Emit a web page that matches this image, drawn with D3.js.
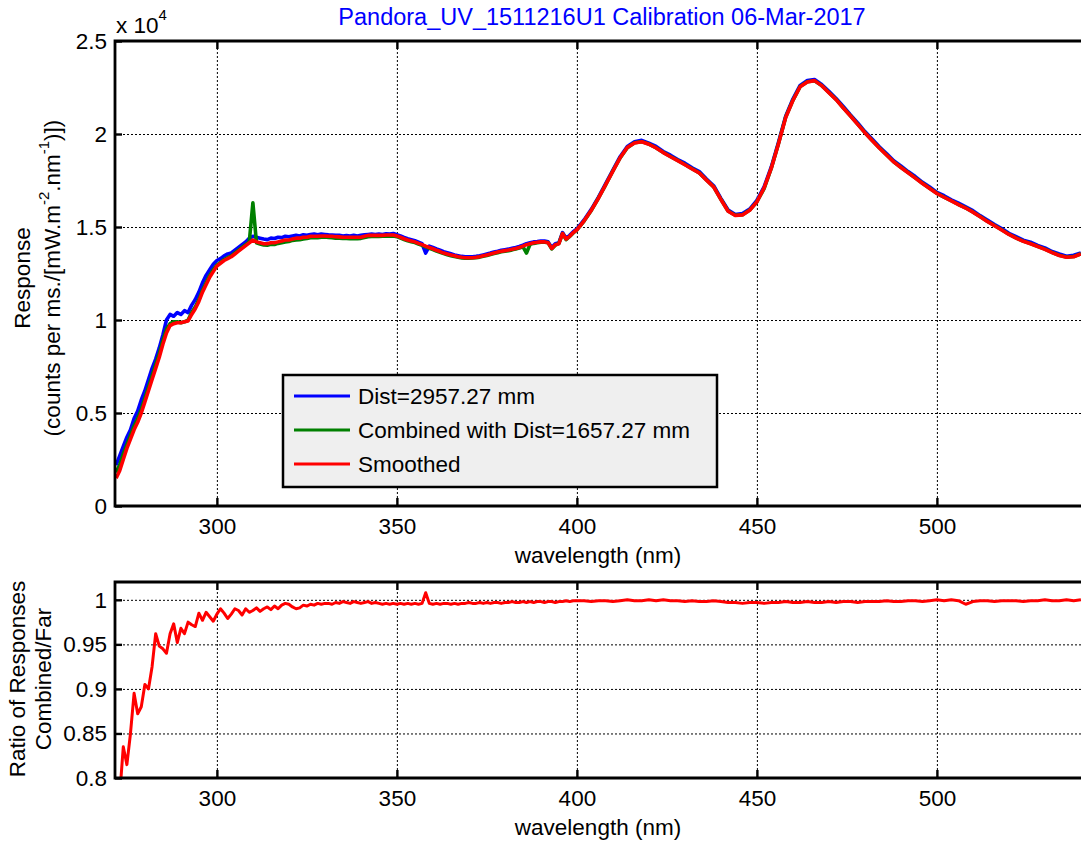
<!DOCTYPE html>
<html>
<head>
<meta charset="utf-8">
<script src="https://cdn.jsdelivr.net/npm/d3@7"></script>
<style>
  body { margin: 0; background: #fff; }
  svg { display: block; font-family: "Liberation Sans", Arial, Helvetica, sans-serif; }
</style>
</head>
<body>
<svg id="chart" width="1081" height="843"></svg>
<script>
// Sampling grid (nm): 1 nm up to 400 nm, 2 nm beyond
const wavelengths = d3.range(272, 401, 1).concat(d3.range(402, 541, 2));

// Response in units of 1e4 counts per ms / [mW.m^-2.nm^-1]
const farResponse = [
  0.22,0.27,0.32,0.37,0.41,0.47,0.51,0.57,0.62,0.68,
  0.74,0.79,0.85,0.92,1.00,1.03,1.02,1.04,1.03,1.05,
  1.04,1.08,1.11,1.15,1.20,1.24,1.27,1.30,1.32,1.33,
  1.345,1.355,1.36,1.375,1.39,1.405,1.42,1.44,1.45,1.445,
  1.44,1.435,1.432,1.44,1.438,1.445,1.443,1.45,1.448,1.452,
  1.455,1.452,1.458,1.456,1.46,1.462,1.458,1.462,1.46,1.458,
  1.457,1.455,1.456,1.452,1.454,1.452,1.455,1.452,1.455,1.458,
  1.46,1.462,1.46,1.462,1.46,1.464,1.462,1.465,1.458,1.452,
  1.444,1.437,1.432,1.426,1.418,1.41,1.36,1.397,1.39,1.382,
  1.375,1.367,1.362,1.356,1.35,1.346,1.342,1.34,1.34,1.34,
  1.342,1.345,1.35,1.355,1.36,1.366,1.37,1.375,1.378,1.381,
  1.386,1.39,1.395,1.402,1.41,1.415,1.42,1.422,1.425,1.424,
  1.42,1.39,1.41,1.415,1.47,1.44,1.455,1.475,1.49,
  1.538,1.595,1.661,1.733,1.806,1.878,1.933,1.958,1.966,1.951,
  1.933,1.906,1.886,1.863,1.843,1.818,1.798,1.758,1.722,1.654,
  1.592,1.567,1.572,1.596,1.643,1.716,1.823,1.955,2.096,2.188,
  2.261,2.287,2.293,2.266,2.23,2.191,2.148,2.103,2.06,2.013,
  1.973,1.931,1.895,1.856,1.828,1.798,1.771,1.74,1.715,1.686,
  1.668,1.646,1.628,1.608,1.588,1.561,1.538,1.513,1.492,1.466,
  1.448,1.429,1.418,1.401,1.388,1.368,1.355,1.343,1.348,1.361
];

const combinedResponse = [
  0.18,0.22,0.28,0.33,0.38,0.43,0.47,0.52,0.58,0.64,
  0.70,0.76,0.82,0.89,0.95,0.98,0.99,0.99,0.985,0.99,
  1.00,1.04,1.07,1.11,1.16,1.20,1.24,1.27,1.295,1.31,
  1.325,1.335,1.345,1.36,1.375,1.39,1.405,1.42,1.63,1.415,
  1.408,1.403,1.402,1.407,1.406,1.412,1.416,1.42,1.422,1.428,
  1.43,1.432,1.436,1.438,1.442,1.443,1.442,1.445,1.446,1.444,
  1.443,1.44,1.44,1.438,1.439,1.437,1.438,1.437,1.439,1.444,
  1.448,1.449,1.45,1.449,1.45,1.452,1.451,1.452,1.448,1.44,
  1.433,1.426,1.421,1.416,1.408,1.401,1.393,1.386,1.379,1.371,
  1.364,1.357,1.351,1.346,1.341,1.337,1.334,1.332,1.332,1.333,
  1.335,1.338,1.343,1.347,1.352,1.357,1.362,1.367,1.37,1.373,
  1.377,1.382,1.387,1.394,1.36,1.407,1.412,1.415,1.418,1.418,
  1.416,1.382,1.402,1.412,1.465,1.432,1.449,1.468,1.484,
  1.532,1.589,1.656,1.727,1.802,1.871,1.926,1.953,1.959,1.946,
  1.926,1.901,1.879,1.858,1.836,1.813,1.791,1.753,1.716,1.649,
  1.586,1.563,1.566,1.591,1.636,1.706,1.816,1.949,2.091,2.181,
  2.255,2.281,2.286,2.261,2.223,2.186,2.141,2.098,2.053,2.008,
  1.966,1.926,1.888,1.851,1.821,1.793,1.764,1.735,1.708,1.681,
  1.661,1.641,1.621,1.603,1.581,1.556,1.531,1.508,1.485,1.461,
  1.441,1.424,1.411,1.396,1.381,1.363,1.348,1.338,1.341,1.356
];

const smoothedResponse = [
  0.15,0.19,0.25,0.31,0.36,0.41,0.45,0.50,0.56,0.62,
  0.68,0.74,0.80,0.87,0.93,0.97,0.98,0.985,0.985,0.99,
  0.995,1.03,1.06,1.10,1.15,1.19,1.23,1.26,1.29,1.305,
  1.32,1.33,1.34,1.355,1.37,1.385,1.40,1.415,1.43,1.42,
  1.415,1.41,1.41,1.415,1.415,1.42,1.425,1.43,1.43,1.435,
  1.44,1.44,1.445,1.445,1.45,1.45,1.45,1.452,1.452,1.45,
  1.45,1.448,1.447,1.445,1.445,1.445,1.445,1.445,1.445,1.45,
  1.455,1.455,1.455,1.455,1.455,1.457,1.457,1.457,1.452,1.445,
  1.437,1.43,1.425,1.42,1.412,1.405,1.397,1.39,1.383,1.375,
  1.368,1.36,1.355,1.35,1.345,1.34,1.337,1.335,1.335,1.335,
  1.337,1.34,1.345,1.35,1.355,1.36,1.365,1.37,1.373,1.376,
  1.38,1.385,1.39,1.397,1.405,1.41,1.415,1.418,1.42,1.42,
  1.415,1.385,1.405,1.41,1.465,1.435,1.45,1.47,1.485,
  1.533,1.59,1.655,1.728,1.80,1.872,1.927,1.952,1.958,1.945,
  1.925,1.90,1.878,1.857,1.835,1.812,1.79,1.752,1.715,1.648,
  1.585,1.562,1.565,1.59,1.635,1.71,1.816,1.948,2.089,2.18,
  2.254,2.28,2.287,2.26,2.222,2.185,2.14,2.097,2.052,2.007,
  1.965,1.925,1.887,1.85,1.82,1.792,1.763,1.734,1.707,1.68,
  1.66,1.64,1.62,1.602,1.58,1.555,1.53,1.507,1.484,1.46,
  1.44,1.423,1.41,1.395,1.38,1.362,1.347,1.337,1.34,1.355
];

// Combined / Far response ratio
const responseRatio = [
  0.76,0.78,0.835,0.815,0.85,0.895,0.872,0.88,0.905,0.90,
  0.925,0.962,0.948,0.945,0.94,0.962,0.973,0.952,0.968,0.962,
  0.975,0.972,0.97,0.985,0.977,0.986,0.981,0.976,0.984,0.99,
  0.985,0.979,0.984,0.99,0.988,0.983,0.99,0.986,0.988,0.991,
  0.987,0.99,0.992,0.989,0.993,0.99,0.994,0.996,0.995,0.992,
  0.99,0.991,0.994,0.993,0.995,0.994,0.996,0.995,0.996,0.996,
  0.995,0.997,0.996,0.998,0.997,0.996,0.998,0.997,0.996,0.997,
  0.998,0.996,0.997,0.996,0.995,0.996,0.995,0.996,0.995,0.996,
  0.995,0.996,0.995,0.996,0.995,0.996,1.008,0.996,0.995,0.996,
  0.995,0.996,0.996,0.995,0.996,0.995,0.996,0.996,0.997,0.996,
  0.996,0.997,0.996,0.997,0.996,0.997,0.997,0.996,0.997,0.997,
  0.998,0.997,0.997,0.998,0.997,0.998,0.997,0.998,0.998,0.997,
  0.998,0.998,0.997,0.998,0.998,0.999,0.998,0.999,0.999,
  0.999,0.998,0.999,0.999,0.998,0.999,1.0,0.999,0.999,1.0,
  0.999,1.0,0.999,0.999,0.998,0.999,0.998,0.998,0.999,0.998,
  0.997,0.997,0.996,0.997,0.997,0.996,0.997,0.997,0.998,0.997,
  0.997,0.998,0.997,0.997,0.998,0.997,0.998,0.998,0.997,0.998,
  0.998,0.998,0.999,0.998,0.998,0.999,0.999,0.998,0.999,1.0,
  0.999,1.0,0.999,0.995,0.998,0.999,0.999,0.998,0.999,0.999,
  0.999,0.998,0.999,0.999,1.0,0.999,0.999,1.0,0.999,1.0
];

const wavelengthTicks = [300, 350, 400, 450, 500];
const responseTicks = [0, 0.5, 1, 1.5, 2, 2.5];
const ratioTicks = [0.8, 0.85, 0.9, 0.95, 1];

const seriesNames = ["Dist=2957.27 mm", "Combined with Dist=1657.27 mm", "Smoothed"];
const seriesColors = ["#0000ff", "#008000", "#ff0000"];

const FONT = 22.5;
const svg = d3.select("#chart");

const x = d3.scaleLinear().domain([271.7, 541]).range([115, 1084.5]);

const topBox = { top: 41, bottom: 506 };
const botBox = { top: 582, bottom: 778 };
const yResp = d3.scaleLinear().domain([0, 2.5]).range([topBox.bottom, topBox.top]);
const yRatio = d3.scaleLinear().domain([0.8, 1.02]).range([botBox.bottom, botBox.top]);

const defs = svg.append("defs");
function clip(id, box) {
  defs.append("clipPath").attr("id", id).append("rect")
    .attr("x", x.range()[0]).attr("y", box.top)
    .attr("width", x.range()[1] - x.range()[0]).attr("height", box.bottom - box.top);
}
clip("clipTop", topBox);
clip("clipBot", botBox);

const GRID_DASH = "2,2";

function drawGrid(box, y, yTicks) {
  const g = svg.append("g");
  const h = box.bottom - box.top;
  g.append("g").attr("transform", `translate(0,${box.bottom})`)
    .call(d3.axisBottom(x).tickValues(wavelengthTicks).tickSize(-h).tickFormat(""))
    .call(s => s.select(".domain").remove())
    .selectAll("line").attr("stroke", "#000").attr("stroke-width", 1).attr("stroke-dasharray", GRID_DASH);
  g.append("g").attr("transform", `translate(${x.range()[0]},0)`)
    .call(d3.axisLeft(y).tickValues(yTicks).tickSize(-(x.range()[1] - x.range()[0])).tickFormat(""))
    .call(s => s.select(".domain").remove())
    .selectAll("line").attr("stroke", "#000").attr("stroke-width", 1).attr("stroke-dasharray", GRID_DASH);
}

function drawAxes(box, y, yTicks) {
  const g = svg.append("g");
  const xb = g.append("g").attr("transform", `translate(0,${box.bottom})`)
    .call(d3.axisBottom(x).tickValues(wavelengthTicks).tickSize(-8).tickPadding(12).tickFormat(d3.format("d")));
  const xt = g.append("g").attr("transform", `translate(0,${box.top})`)
    .call(d3.axisTop(x).tickValues(wavelengthTicks).tickSize(-8).tickFormat(""));
  const yl = g.append("g").attr("transform", `translate(${x.range()[0]},0)`)
    .call(d3.axisLeft(y).tickValues(yTicks).tickSize(-7).tickPadding(8).tickFormat(d3.format("~g")));
  [xb, xt, yl].forEach(a => {
    a.select(".domain").remove();
    a.selectAll("line").attr("stroke", "#000").attr("stroke-width", 2.4);
    a.selectAll("text").attr("fill", "#000").style("font-size", FONT + "px")
      .style("font-family", '"Liberation Sans", Arial, sans-serif');
  });
  const x0 = x.range()[0], x1 = x.range()[1];
  g.append("path")
    .attr("d", `M${x1},${box.top}H${x0}V${box.bottom}H${x1}`)
    .attr("fill", "none").attr("stroke", "#000").attr("stroke-width", 2.8);
}

const toPoints = vals => wavelengths.map((w, i) => [w, vals[i]]);

// ---- upper panel: responses
drawGrid(topBox, yResp, responseTicks);
const lineResp = d3.line().x(d => x(d[0])).y(d => yResp(d[1]));
const topData = svg.append("g").attr("clip-path", "url(#clipTop)");
[farResponse, combinedResponse, smoothedResponse].forEach((vals, i) => {
  topData.append("path")
    .datum(toPoints(vals))
    .attr("d", lineResp)
    .attr("fill", "none")
    .attr("stroke", seriesColors[i])
    .attr("stroke-width", 3.6)
    .attr("stroke-linejoin", "round");
});
drawAxes(topBox, yResp, responseTicks);

// ---- lower panel: ratio
drawGrid(botBox, yRatio, ratioTicks);
const lineRatio = d3.line().x(d => x(d[0])).y(d => yRatio(d[1]));
svg.append("g").attr("clip-path", "url(#clipBot)")
  .append("path")
  .datum(toPoints(responseRatio))
  .attr("d", lineRatio)
  .attr("fill", "none")
  .attr("stroke", "#ff0000")
  .attr("stroke-width", 3)
  .attr("stroke-linejoin", "round");
drawAxes(botBox, yRatio, ratioTicks);

// ---- texts
const txt = (xp, yp, s, opts = {}) => svg.append("text")
  .attr("x", xp).attr("y", yp).text(s)
  .attr("text-anchor", opts.anchor || "middle")
  .attr("fill", opts.fill || "#000")
  .style("font-size", (opts.size || FONT) + "px");

txt(602, 25, "Pandora_UV_1511216U1 Calibration 06-Mar-2017", { fill: "#0000ff", size: 23.5 });

// exponent marker for the response axis
const expo = svg.append("text").attr("x", 116).attr("y", 33).attr("fill", "#000").style("font-size", FONT + "px");
expo.append("tspan").text("x 10");
expo.append("tspan").attr("dy", -13).style("font-size", "15px").text("4");

txt(598, 563, "wavelength (nm)");
txt(598, 835, "wavelength (nm)");

function vlabel(cx, cy, build) {
  const t = svg.append("text")
    .attr("transform", `translate(${cx},${cy}) rotate(-90)`)
    .attr("text-anchor", "middle")
    .attr("dominant-baseline", "central")
    .attr("fill", "#000")
    .style("font-size", FONT + "px");
  build(t);
}
vlabel(22, 278, t => t.text("Response"));
vlabel(52, 278, t => {
  t.append("tspan").text("(counts per ms./[mW.m");
  t.append("tspan").attr("dy", -9).style("font-size", "15px").text("-2");
  t.append("tspan").attr("dy", 9).text(".nm");
  t.append("tspan").attr("dy", -9).style("font-size", "15px").text("-1");
  t.append("tspan").attr("dy", 9).text(")])");
});
vlabel(17, 679, t => t.text("Ratio of Responses"));
vlabel(43, 679, t => t.text("Combined/Far"));

// ---- legend
const legend = svg.append("g").attr("transform", "translate(283,375)");
legend.append("rect").attr("width", 434).attr("height", 112)
  .attr("fill", "#efefef").attr("stroke", "#000").attr("stroke-width", 2.5);
const rowY = [21, 55, 89];
seriesNames.forEach((name, i) => {
  legend.append("line").attr("x1", 11).attr("x2", 67).attr("y1", rowY[i]).attr("y2", rowY[i])
    .attr("stroke", seriesColors[i]).attr("stroke-width", 3);
  legend.append("text").attr("x", 75).attr("y", rowY[i]).attr("dy", "0.35em")
    .attr("fill", "#000").style("font-size", FONT + "px").text(name);
});
</script>
</body>
</html>
